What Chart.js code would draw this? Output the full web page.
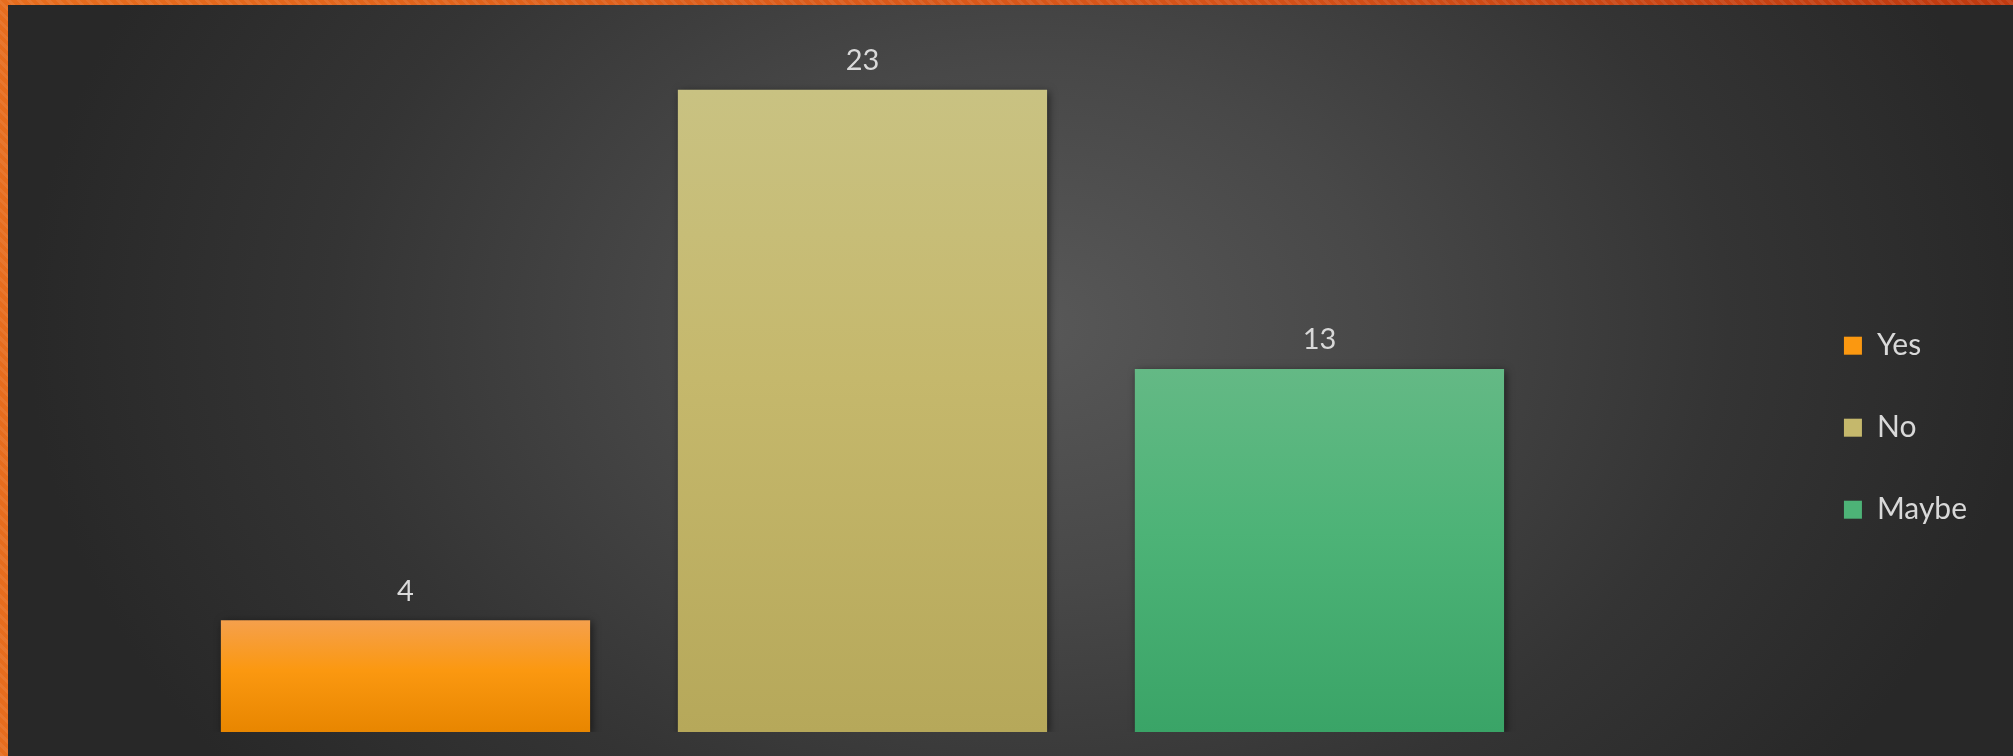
<!DOCTYPE html>
<html>
<head>
<meta charset="utf-8">
<script src="https://cdn.jsdelivr.net/npm/chart.js@4.4.1/dist/chart.umd.min.js"></script>
<style>
  html, body { margin: 0; padding: 0; }
  body {
    width: 2013px; height: 756px; overflow: hidden; position: relative;
    background:
      repeating-linear-gradient(45deg, rgba(255,255,255,0.07) 0 3px, rgba(0,0,0,0) 3px 7px),
      linear-gradient(90deg, #e66d1e 0%, #d4531a 60%, #bf3a10 100%);
  }
  #panel {
    position: absolute; left: 8px; top: 5px; right: 0; bottom: 0;
    background: radial-gradient(ellipse 1000px 740px at 1020px 320px, #585858 0%, #484848 35%, #343434 70%, #282828 100%);
  }
  #lineBar { position: absolute; left: 0; top: 0; }
</style>
</head>
<body>
<div id="panel"></div>
<canvas id="lineBar" width="2013" height="756"></canvas>
<script>
  'use strict'
  // datos
  const categorias = ['Yes', 'No', 'Maybe'];
  const valores = [4, 23, 13];
  const ejeY = { min: 0, max: 25 };

  // colores (arriba, medio, abajo) de cada barra
  const coloresArriba = ['#f5a04c', '#c9c282', '#64b985'];
  const coloresMedio = ['#fb9810', '#c5b86c', '#4db377'];
  const coloresAbajo = ['#e88600', '#b6a85a', '#3aa467'];
  const colorTexto = '#d9d9d9';
  const fuente = 'Lato, "Open Sans", sans-serif';

  // degradado vertical de cada barra
  function colorBarra(context) {
    const chart = context.chart;
    const i = context.dataIndex;
    if (!chart.chartArea || i === undefined) return coloresMedio[i || 0];
    const y = chart.scales.y;
    const top = y.getPixelForValue(valores[i]);
    const bottom = y.getPixelForValue(0);
    const g = chart.ctx.createLinearGradient(0, top, 0, bottom);
    g.addColorStop(0, coloresArriba[i]);
    g.addColorStop(0.45, coloresMedio[i]);
    g.addColorStop(1, coloresAbajo[i]);
    return g;
  }

  // sombra de las barras
  const sombra = {
    id: 'sombra',
    beforeDatasetsDraw(chart) {
      const ctx = chart.ctx;
      ctx.save();
      ctx.shadowColor = 'rgba(0,0,0,0.55)';
      ctx.shadowBlur = 8;
      ctx.shadowOffsetX = 2;
      ctx.shadowOffsetY = 2;
    },
    afterDatasetsDraw(chart) {
      chart.ctx.restore();
    }
  };

  // etiquetas de valor encima de cada barra
  const etiquetas = {
    id: 'etiquetas',
    afterDraw(chart) {
      const ctx = chart.ctx;
      const meta = chart.getDatasetMeta(0);
      ctx.save();
      ctx.fillStyle = colorTexto;
      ctx.font = '29px ' + fuente;
      ctx.textAlign = 'center';
      ctx.textBaseline = 'middle';
      meta.data.forEach((bar, i) => {
        ctx.fillText(String(valores[i]), bar.x, bar.y - 29);
      });
      ctx.restore();
    }
  };

  const configBarras = {
    type: 'bar',
    data: {
      labels: categorias,
      datasets: [{
        data: valores,
        backgroundColor: colorBarra,
        borderWidth: 0,
        barPercentage: 0.808,
        categoryPercentage: 1
      }]
    },
    options: {
      responsive: false,
      animation: false,
      layout: { padding: { left: 177, top: 34, bottom: 24, right: 36 } },
      scales: {
        x: { display: false },
        y: {
          position: 'right',
          min: ejeY.min,
          max: ejeY.max,
          grid: { display: false },
          border: { display: false },
          ticks: { display: false },
          afterFit(scale) { scale.width = 244; }
        }
      },
      plugins: {
        tooltip: { enabled: false },
        legend: {
          position: 'right',
          title: { display: true, text: '', padding: { top: 75, bottom: 0 } },
          labels: {
            color: colorTexto,
            font: { size: 30, family: fuente },
            boxWidth: 18,
            boxHeight: 18,
            padding: 52,
            generateLabels(chart) {
              return categorias.map((c, i) => ({
                text: c,
                fillStyle: coloresMedio[i],
                strokeStyle: coloresMedio[i],
                lineWidth: 0,
                fontColor: colorTexto,
                index: i
              }));
            }
          }
        }
      }
    },
    plugins: [sombra, etiquetas]
  };

  const myChart = new Chart(document.getElementById('lineBar'), configBarras);
</script>
</body>
</html>
